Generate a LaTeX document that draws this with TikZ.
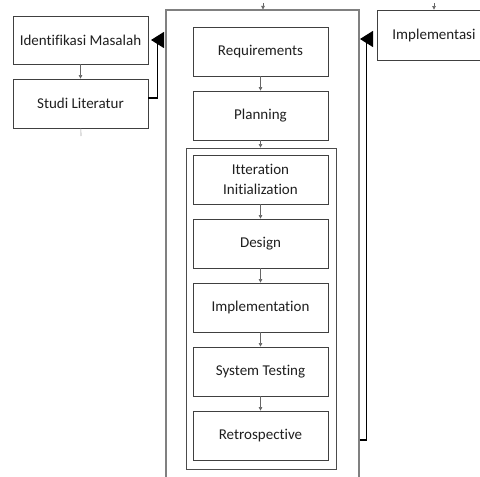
\documentclass[tikz,border=0pt]{standalone}
\usepackage{fontspec}
\setmainfont{Carlito}[Ligatures=NoCommon]
\usetikzlibrary{arrows.meta}
\begin{document}
\begin{tikzpicture}[x=1pt,y=-1pt,
 box/.style={draw=black!75,line width=0.8pt,minimum width=135pt,minimum height=49pt,inner sep=2pt,align=center,font=\fontsize{15}{20}\selectfont,text=black!88},
 frame/.style={draw=black!50,line width=1.1pt,inner sep=0pt},
 flow/.style={draw=black!60,line width=0.6pt,-{Triangle[length=3.5pt,width=3.5pt]}},
 big/.style={draw=black,line width=1.2pt,-{Triangle[length=13pt,width=16pt]}}]
\clip (0,0) rectangle (480,477);
\fill[white] (0,0) rectangle (480,477);
% left column
\node[box,minimum height=48pt] (idm) at (80.5,40) {Identifikasi Masalah};
\node[box] (stl) at (80.5,103.5) {Studi Literatur};
% outer frame
\node[frame,minimum width=193pt,minimum height=500pt] (outer) at (262.5,260) {};
\node[box] (req) at (260.5,51.5) {Requirements};
\node[box] (pln) at (260.5,115.5) {Planning};
\node[frame,draw=black!70,line width=0.8pt,minimum width=150pt,minimum height=321pt] (inner) at (261,308.5) {};
\node[box] (iti) at (260.5,179.5) {Itteration\\Initialization};
\node[box] (des) at (260.5,243.5) {Design};
\node[box] (imp) at (260.5,307.5) {Implementation};
\node[box] (sys) at (260.5,371.5) {System Testing};
\node[box] (ret) at (260.5,435.5) {Retrospective};
% right
\node[box,minimum width=114pt,minimum height=50pt] (impl) at (434,35) {Implementasi};
% flow arrows
\draw[flow] (idm) -- (stl);
\draw[flow] (req) -- (pln);
\draw[flow] (pln) -- (pln |- inner.north);
\draw[flow] (iti) -- (des);
\draw[flow] (des) -- (imp);
\draw[flow] (imp) -- (sys);
\draw[flow] (sys) -- (ret);
% stubs
\coordinate (t1) at (263,3);
\coordinate (t2) at (434,3);
\coordinate (t3) at (81,136);
\draw[flow] (t1) -- (t1 |- outer.north);
\draw[flow] (t2) -- (impl);
\draw[draw=black!35,line width=0.6pt] (stl) -- (t3);
% big elbow connectors
\coordinate (ltip) at (151,40);
\coordinate (rtip) at (360,39);
\draw[big] ([yshift=5.5pt]stl.east) -- ++(9,0) |- (ltip);
\draw[big] ([yshift=-180pt]outer.east) -- ++(7,0) |- (rtip);
\end{tikzpicture}
\end{document}
